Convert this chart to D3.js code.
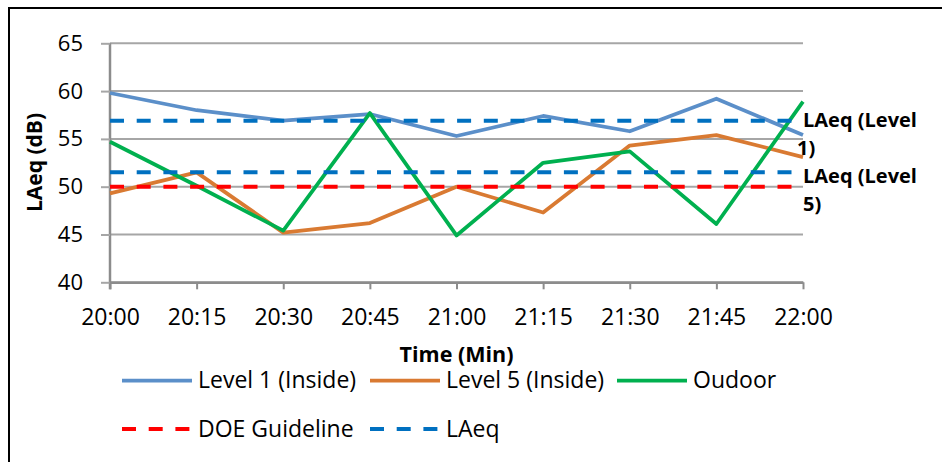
<!DOCTYPE html>
<html>
<head>
<meta charset="utf-8">
<script src="https://cdn.jsdelivr.net/npm/d3@7"></script>
<style>
  html, body { margin: 0; padding: 0; background: #fff; }
  svg { display: block; font-family: "Open Sans", "DejaVu Sans", sans-serif; }
</style>
</head>
<body>
<svg id="chart" width="942" height="462"></svg>
<script>
// Sound level measurements, 20:00 to 22:00
const times = ["20:00", "20:15", "20:30", "20:45", "21:00", "21:15", "21:30", "21:45", "22:00"];
const level1Inside = [59.8, 58.0, 56.9, 57.6, 55.3, 57.4, 55.8, 59.2, 55.4];
const level5Inside = [49.3, 51.5, 45.2, 46.2, 50.0, 47.3, 54.3, 55.4, 53.1];
const outdoor = [54.7, 50.1, 45.4, 57.7, 44.9, 52.5, 53.7, 46.1, 58.9];
const doeGuideline = 50;
const laeqLevel1 = 56.9;
const laeqLevel5 = 51.5;
const yTicks = [40, 45, 50, 55, 60, 65];

const svg = d3.select("#chart");
const plotLeft = 110, plotRight = 803, plotTop = 43.3, plotBottom = 282.3;

const x = d3.scalePoint().domain(times).range([plotLeft, plotRight]);
const y = d3.scaleLinear().domain([40, 65]).range([plotBottom, plotTop]);

// outer frame
svg.append("rect")
  .attr("x", 9).attr("y", 8).attr("width", 1000).attr("height", 1000)
  .attr("fill", "none").attr("stroke", "#000").attr("stroke-width", 2);

// horizontal gridlines
svg.append("g").selectAll("line").data(yTicks).join("line")
  .attr("x1", plotLeft).attr("x2", plotRight)
  .attr("y1", d => y(d)).attr("y2", d => y(d))
  .attr("stroke", "#a6a6a6").attr("stroke-width", 2);

// y axis
const yAxis = svg.append("g")
  .attr("transform", `translate(${plotLeft},0)`)
  .call(d3.axisLeft(y).tickValues(yTicks).tickSize(9).tickSizeOuter(0).tickPadding(18));
yAxis.select(".domain").attr("stroke", "#8c8c8c").attr("stroke-width", 2.5)
  .attr("d", `M0,${plotTop}V${plotBottom + 7}`);
yAxis.selectAll(".tick line").attr("stroke", "#a6a6a6").attr("stroke-width", 2);
yAxis.selectAll(".tick text").attr("font-size", 22).attr("fill", "#000")
  .attr("font-family", "Open Sans");

// x axis
const xAxis = svg.append("g")
  .attr("transform", `translate(0,${plotBottom})`)
  .call(d3.axisBottom(x).tickSize(7).tickSizeOuter(0).tickPadding(19));
xAxis.select(".domain").attr("stroke", "#8c8c8c").attr("stroke-width", 2.5);
xAxis.selectAll(".tick line").attr("stroke", "#8c8c8c").attr("stroke-width", 2);
xAxis.selectAll(".tick text").attr("font-size", 23).attr("fill", "#000")
  .attr("font-family", "Open Sans");

// axis titles
svg.append("text")
  .attr("transform", "translate(42,162.5) rotate(-90)")
  .attr("text-anchor", "middle").attr("font-weight", "bold").attr("font-size", 21)
  .text("LAeq (dB)");
svg.append("text")
  .attr("x", (plotLeft + plotRight) / 2).attr("y", 362)
  .attr("text-anchor", "middle").attr("font-weight", "bold").attr("font-size", 21.5)
  .text("Time (Min)");

// measured series
const line = d3.line().x((d, i) => x(times[i])).y(d => y(d));
const series = [
  { name: "Level 1 (Inside)", values: level1Inside, color: "#5b8fc9" },
  { name: "Level 5 (Inside)", values: level5Inside, color: "#d97a32" },
  { name: "Oudoor", values: outdoor, color: "#00b04f" }
];
svg.append("g").selectAll("path").data(series).join("path")
  .attr("d", d => line(d.values))
  .attr("fill", "none").attr("stroke", d => d.color)
  .attr("stroke-width", 3.75).attr("stroke-linejoin", "round");

// reference levels
const dash = "14,12.7";
const refs = [
  { value: doeGuideline, color: "#ff0000" },
  { value: laeqLevel1, color: "#0070c0" },
  { value: laeqLevel5, color: "#0070c0" }
];
svg.append("g").selectAll("line").data(refs).join("line")
  .attr("x1", plotLeft).attr("x2", plotRight)
  .attr("y1", d => y(d.value)).attr("y2", d => y(d.value))
  .attr("stroke", d => d.color).attr("stroke-width", 4)
  .attr("stroke-dasharray", dash);

// labels for the LAeq lines (wrapped over two lines)
const labels = [
  { value: laeqLevel1, lines: ["LAeq (Level", "1)"], dy: 6.5, dx2: -6 },
  { value: laeqLevel5, lines: ["LAeq (Level", "5)"], dy: 11, dx2: 0 }
];
labels.forEach(l => {
  const base = y(l.value) + l.dy;
  const t = svg.append("text").attr("font-weight", "bold").attr("font-size", 20);
  t.append("tspan").attr("x", plotRight).attr("y", base).text(l.lines[0]);
  t.append("tspan").attr("x", plotRight + l.dx2).attr("y", base + 28).text(l.lines[1]);
});

// legend
const legendItems = [
  { name: "Level 1 (Inside)", color: "#5b8fc9", dashed: false, x: 122, y: 380.7 },
  { name: "Level 5 (Inside)", color: "#d97a32", dashed: false, x: 370, y: 380.7 },
  { name: "Oudoor", color: "#00b04f", dashed: false, x: 617, y: 380.7 },
  { name: "DOE Guideline", color: "#ff0000", dashed: true, x: 122, y: 429 },
  { name: "LAeq", color: "#0070c0", dashed: true, x: 370, y: 429 }
];
const lg = svg.append("g").selectAll("g").data(legendItems).join("g")
  .attr("transform", d => `translate(${d.x},${d.y})`);
lg.append("line")
  .attr("x1", 0).attr("x2", 70).attr("y1", 0).attr("y2", 0)
  .attr("stroke", d => d.color)
  .attr("stroke-width", d => d.dashed ? 4 : 3.75)
  .attr("stroke-dasharray", d => d.dashed ? dash : null);
lg.append("text")
  .attr("x", 76).attr("y", 7.5)
  .attr("font-size", 23)
  .text(d => d.name);
</script>
</body>
</html>
